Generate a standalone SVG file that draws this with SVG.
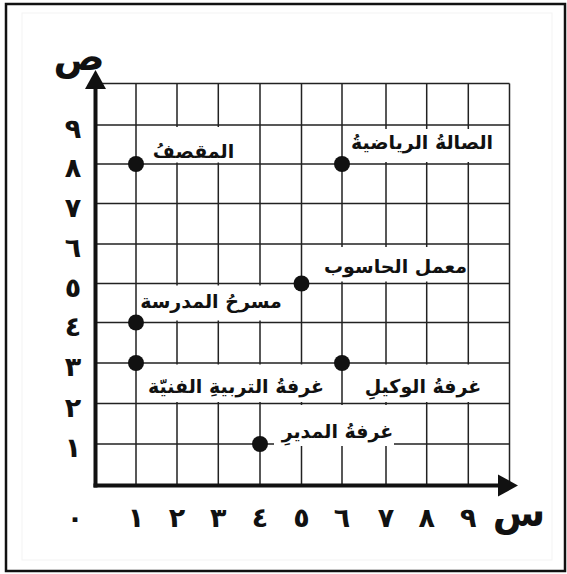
<svg xmlns="http://www.w3.org/2000/svg" width="567" height="574" viewBox="0 0 567 574">
<style>
.grid{stroke:#222;stroke-width:1.5;fill:none}
.axis{stroke:#111;stroke-width:4;fill:none}
.lbl{font-family:"DejaVu Sans",sans-serif;font-weight:bold;font-size:19px;fill:#111;text-anchor:middle}
.num{font-family:"DejaVu Sans",sans-serif;font-weight:bold;font-size:27px;fill:#111;text-anchor:middle}
.ax{font-family:"DejaVu Sans",sans-serif;font-weight:bold;font-size:38px;fill:#111;text-anchor:middle}
.bg{fill:#fff}
.dot{fill:#111}
</style>
<rect x="0" y="0" width="567" height="574" fill="#fff"/>
<rect x="22" y="13" width="530" height="547" fill="none" stroke="#f3f3f3" stroke-width="1"/>
<rect x="6" y="4" width="559" height="567" fill="none" stroke="#111" stroke-width="2.5"/>
<g id="grid" class="grid">
<path d="M136 83.5V485.5M177 83.5V485.5M218.3 83.5V485.5M260 83.5V485.5M301.5 83.5V485.5M342 83.5V485.5M386 83.5V485.5M426.7 83.5V485.5M468.3 83.5V485.5M509.5 83.5V485.5"/>
<path d="M95.5 83.5H509.5M95.5 125H509.5M95.5 164H509.5M95.5 203.5H509.5M95.5 244H509.5M95.5 283.5H509.5M95.5 322.5H509.5M95.5 363H509.5M95.5 403.5H509.5M95.5 444H509.5"/>
</g>
<g id="label-bg">
<rect class="bg" x="151" y="127" width="78" height="35.5"/>
<rect class="bg" x="349" y="129" width="147" height="33"/>
<rect class="bg" x="319" y="247" width="143" height="34.5"/>
<rect class="bg" x="143" y="285.5" width="132" height="35"/>
<rect class="bg" x="138" y="364.5" width="190" height="37.5"/>
<rect class="bg" x="344" y="364.5" width="146" height="37.5"/>
<rect class="bg" x="274" y="405" width="120" height="41"/>
</g>
<g id="axes">
<path class="axis" d="M95.5 487.5V86"/>
<path d="M95.5 70L106 89H85Z" fill="#111"/>
<path class="axis" d="M93.5 485.5H500"/>
<path d="M518 485.5L498 474.5V496.5Z" fill="#111"/>
<text class="ax" x="79" y="70">ص</text>
<text class="ax" x="519" y="526">س</text>
</g>
<g id="x-ticks" class="num">
<text x="75" y="527">٠</text>
<text x="136" y="527">١</text>
<text x="177" y="527">٢</text>
<text x="218.3" y="527">٣</text>
<text x="260" y="527">٤</text>
<text x="301.5" y="527">٥</text>
<text x="342" y="527">٦</text>
<text x="386" y="527">٧</text>
<text x="426.7" y="527">٨</text>
<text x="468.3" y="527">٩</text>
</g>
<g id="y-ticks" class="num">
<text x="73" y="457">١</text>
<text x="73" y="416.5">٢</text>
<text x="73" y="376">٣</text>
<text x="73" y="335.5">٤</text>
<text x="73" y="296.5">٥</text>
<text x="73" y="257">٦</text>
<text x="73" y="216.5">٧</text>
<text x="73" y="177">٨</text>
<text x="73" y="138">٩</text>
</g>
<g id="n-canteen"><circle class="dot" cx="136" cy="164" r="8"/><text class="lbl" x="193.5" y="158">المقصفُ</text></g>
<g id="n-gym"><circle class="dot" cx="342" cy="164" r="8"/><text class="lbl" x="422" y="149">الصالةُ الرياضيةُ</text></g>
<g id="n-computer"><circle class="dot" cx="301.5" cy="283.5" r="8"/><text class="lbl" x="395.5" y="273">معمل الحاسوب</text></g>
<g id="n-theatre"><circle class="dot" cx="136" cy="322.5" r="8"/><text class="lbl" x="211" y="308">مسرحُ المدرسة</text></g>
<g id="n-art"><circle class="dot" cx="136" cy="363" r="8"/><text class="lbl" x="236" y="393">غرفةُ التربيةِ الفنيّة</text></g>
<g id="n-deputy"><circle class="dot" cx="342" cy="363" r="8"/><text class="lbl" x="423" y="393">غرفةُ الوكيلِ</text></g>
<g id="n-principal"><circle class="dot" cx="260" cy="444" r="8"/><text class="lbl" x="337.5" y="438">غرفةُ المديرِ</text></g>
</svg>
